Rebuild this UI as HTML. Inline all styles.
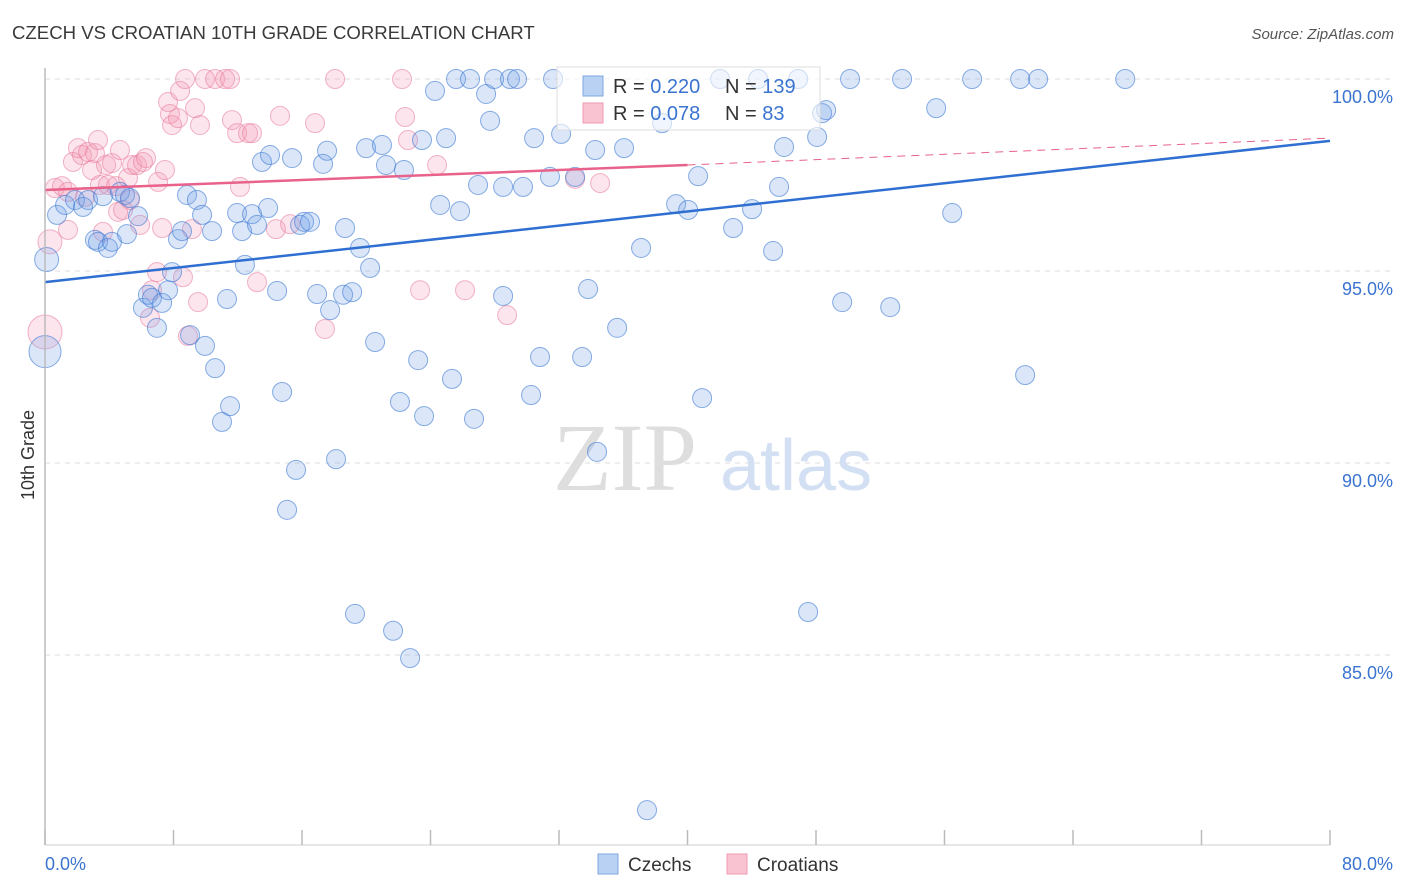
<!DOCTYPE html>
<html><head><meta charset="utf-8"><style>
html,body{margin:0;padding:0;background:#fff;}
svg{display:block;font-family:"Liberation Sans",sans-serif;}
</style></head><body>
<svg id="chart" width="1406" height="892" viewBox="0 0 1406 892" xmlns="http://www.w3.org/2000/svg">
<text x="12" y="39" font-size="18.6" fill="#3a3a3a">CZECH VS CROATIAN 10TH GRADE CORRELATION CHART</text>
<text x="1394" y="39" font-size="15" fill="#555" text-anchor="end" font-style="italic">Source: ZipAtlas.com</text>
<g id="grid"></g>
<g>
<text x="553" y="490" font-size="96" fill="#dedede" font-family="Liberation Serif,serif">ZIP</text>
<text x="720" y="490" font-size="72" fill="#d3e0f3">atlas</text>
</g>
<g id="pts"></g>
<g id="lines"></g>
<g id="axes"></g>
<text transform="translate(34,455) rotate(-90)" font-size="18" fill="#333" text-anchor="middle">10th Grade</text>
<g>
<rect x="557" y="67" width="263" height="63" fill="rgba(255,255,255,0.6)" stroke="#ddd"/>
<rect x="583" y="76" width="20" height="20" fill="#b9d1f3" stroke="#7fa6e0"/>
<rect x="583" y="103" width="20" height="20" fill="#f9c3d2" stroke="#ef9ab3"/>
<text x="613" y="93" font-size="20" fill="#333">R = <tspan fill="#3a74d0">0.220</tspan></text>
<text x="725" y="93" font-size="20" fill="#333">N = <tspan fill="#3a74d0">139</tspan></text>
<text x="613" y="120" font-size="20" fill="#333">R = <tspan fill="#3a74d0">0.078</tspan></text>
<text x="725" y="120" font-size="20" fill="#333">N = <tspan fill="#3a74d0">  83</tspan></text>
</g>
<g>
<g><rect x="598" y="854" width="20" height="20" fill="#b9d1f3" stroke="#7fa6e0"/><text x="628" y="871" font-size="19" fill="#333">Czechs</text></g>
<g><rect x="727" y="854" width="20" height="20" fill="#f9c3d2" stroke="#ef9ab3"/><text x="757" y="871" font-size="19" fill="#333">Croatians</text></g>
</g>
</svg>
<script>
const czechX=[0.1,0,0.75,1.25,1.87,2.37,2.68,3.11,3.3,3.92,4.17,3.61,4.67,4.98,5.29,5.1,5.79,6.1,6.41,6.66,6.97,7.29,7.66,7.91,8.28,8.53,8.84,9.03,9.46,9.78,9.96,10.4,10.59,11.02,11.33,11.52,11.96,12.27,12.45,12.89,13.2,13.51,13.89,14.01,14.45,14.76,15.07,15.38,15.63,15.88,16.13,16.5,16.94,17.31,17.56,17.75,18.12,18.56,18.68,19.12,19.3,19.61,19.99,20.24,20.55,20.98,21.23,21.67,22.1,22.35,22.73,23.23,23.47,23.6,24.28,24.6,24.97,25.34,25.59,25.84,26.46,26.71,26.96,27.46,27.71,27.96,28.52,28.52,28.95,29.39,29.76,30.26,30.45,30.82,31.44,31.63,32.13,33.0,33.44,33.81,34.25,34.37,35.62,36.05,37.11,37.48,38.42,39.29,40.04,40.66,40.91,42.03,42.84,44.02,44.4,45.33,45.7,46.01,46.89,47.51,48.07,48.38,48.63,49.63,50.12,52.62,53.36,55.48,56.48,57.72,60.71,61.02,61.83,67.25];
const czechY=[95.3,92.9,96.46,96.72,96.85,96.67,96.85,95.81,95.76,95.6,95.76,96.95,97.06,96.98,96.9,95.96,96.43,94.04,94.38,94.3,93.52,94.17,94.5,94.97,95.83,96.04,96.98,93.33,96.85,96.46,93.05,96.04,92.47,91.07,94.27,91.48,96.51,96.04,95.16,96.48,96.2,97.84,96.64,98.02,94.48,91.85,88.78,97.94,89.82,96.2,96.28,96.28,94.4,97.79,98.13,93.98,90.1,94.38,96.12,94.45,86.07,95.6,98.2,95.08,93.15,98.28,97.76,85.63,91.59,97.63,84.92,92.68,98.41,91.22,99.69,96.72,98.46,92.19,100,96.56,100,91.15,97.24,99.61,98.91,100,97.19,94.35,100,100,97.19,91.77,98.46,92.76,97.45,100,98.57,97.45,92.76,94.53,98.15,90.29,93.52,98.2,95.6,80.96,98.85,96.74,96.59,97.47,91.69,100,96.12,96.61,100,95.52,97.19,98.23,100,86.12,98.49,99.11,99.19,94.19,100,94.06,100,99.24,96.51,100,100,92.29,100,100];
const czechSize=[12,16];
const croatX=[0,0.31,0.62,1.06,1.43,1.43,1.74,2.05,2.3,2.68,2.93,3.11,3.3,3.42,3.61,3.8,3.92,4.17,4.42,4.67,4.55,4.86,5.17,5.29,5.42,5.73,5.92,6.1,6.29,6.54,6.66,6.97,7.04,7.29,7.47,7.66,7.78,7.91,8.28,8.41,8.59,8.72,8.9,9.15,9.34,9.53,9.65,9.96,10.59,11.21,11.52,11.64,11.96,12.14,12.64,12.89,13.2,14.38,14.63,15.26,16.81,17.43,18.06,22.23,22.42,22.6,23.35,24.41,26.15,28.77,33.0,34.56,2.49];
const croatY=[93.41,95.76,97.16,97.21,96.07,97.06,97.84,98.2,98.02,98.1,97.63,98.07,98.41,97.24,96.02,97.76,97.24,97.81,97.21,98.15,96.54,96.59,97.42,96.85,97.76,97.76,96.2,97.84,97.94,93.78,94.5,94.97,97.32,96.12,97.63,99.4,99.09,98.8,98.98,99.69,94.84,100,93.31,96.09,99.24,94.19,98.8,100,100,100,100,98.93,98.59,97.19,98.59,98.59,94.71,96.09,99.04,96.22,98.85,93.49,100,100,99.01,98.41,94.5,97.76,94.5,93.85,97.4,97.29,96.93];
const croatSize=[17,12];
const czechTrend=[94.71,98.39];
const croatTrend=[97.11,97.76,98.46];
const xTicks=[0,8,16,24,32,40,48,56,64,72,80];
const yTicks=[100,95,90,85];
const yTickLabels=["100.0%","95.0%","90.0%","85.0%"];
const xLabels=["0.0%","80.0%"];

const NS="http://www.w3.org/2000/svg";
const X=v=>45+v*(1285/80);
const Y=v=>79+(100-v)*38.4;
function mk(tag,attrs,parent){const e=document.createElementNS(NS,tag);for(const k in attrs)e.setAttribute(k,attrs[k]);parent.appendChild(e);return e;}
const grid=document.getElementById('grid'),axes=document.getElementById('axes'),pts=document.getElementById('pts'),lines=document.getElementById('lines');
yTicks.forEach((t,i)=>{
  const l=mk('line',{x1:45,x2:1393,y1:Y(t),y2:Y(t),stroke:'#ddd','stroke-dasharray':'5,5'},grid);
  
  
  const tx=mk('text',{x:1393,y:Y(t)+24,'font-size':18,fill:'#3a74d0','text-anchor':'end'},axes);
  tx.textContent=yTickLabels[i];
  
  
});
const ax=mk('line',{x1:45,x2:45,y1:68,y2:845,stroke:'#bbb','stroke-width':1.5},axes);


const bx=mk('line',{x1:45,x2:1330,y1:845,y2:845,stroke:'#ccc'},axes);


xTicks.forEach(t=>{
  const l=mk('line',{x1:X(t),x2:X(t),y1:830,y2:845,stroke:'#bbb','stroke-width':1.5},axes);
  
  
});
const xl0=mk('text',{x:45,y:870,'font-size':18,fill:'#3a74d0'},axes);xl0.textContent=xLabels[0];


const xl1=mk('text',{x:1393,y:870,'font-size':18,fill:'#3a74d0','text-anchor':'end'},axes);xl1.textContent=xLabels[1];


function drawSeries(xs,ys,sizes,fill,stroke,name){
  xs.forEach((x,i)=>{
    const c=mk('circle',{cx:X(x),cy:Y(ys[i]),r:sizes[i]||9.5,fill:fill,stroke:stroke,'stroke-width':1},pts);
    
    
  });
}
drawSeries(croatX,croatY,croatSize,'rgba(244,150,178,0.25)','rgba(232,120,155,0.55)','croatian-point');
drawSeries(czechX,czechY,czechSize,'rgba(110,158,230,0.25)','rgba(60,120,210,0.6)','czech-point');
const bl=mk('line',{x1:X(0),y1:Y(czechTrend[0]),x2:X(80),y2:Y(czechTrend[1]),stroke:'#2f6fd1','stroke-width':2.5},lines);


const pl=mk('line',{x1:X(0),y1:Y(croatTrend[0]),x2:X(40),y2:Y(croatTrend[1]),stroke:'#e8628c','stroke-width':2.5},lines);


const pd=mk('line',{x1:X(40),y1:Y(croatTrend[1]),x2:X(80),y2:Y(croatTrend[2]),stroke:'#e8628c','stroke-width':1,'stroke-dasharray':'8,6'},lines);


</script>
</body></html>
